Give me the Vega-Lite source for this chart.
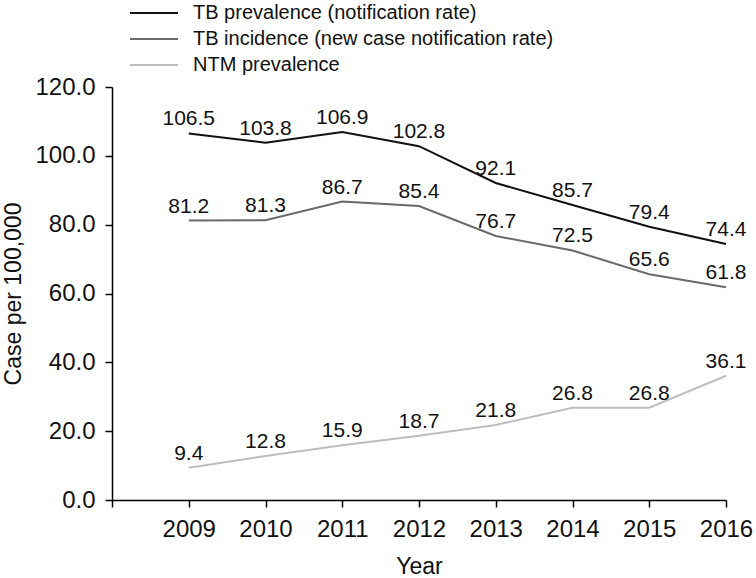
{
  "$schema": "https://vega.github.io/schema/vega-lite/v6.json",
  "width": 614,
  "height": 413,
  "autosize": {"type": "none"},
  "padding": {"left": 112, "top": 87, "right": 30, "bottom": 78},
  "background": "white",
  "config": {
    "view": {"stroke": null},
    "font": "Liberation Sans",
    "axis": {"grid": false, "domainColor": "#000", "tickColor": "#000", "domainWidth": 1.5, "tickWidth": 1.5, "tickSize": 7, "labelColor": "#111", "titleColor": "#111", "labelFont": "Liberation Sans", "titleFont": "Liberation Sans", "labelFontSize": 24, "titleFontSize": 23, "titleFontWeight": "normal", "labelOverlap": false, "labelFlush": false}
  },
  "data": {
    "values": [
      {"year": 2009, "series": "TB prevalence (notification rate)", "value": 106.5},
      {"year": 2010, "series": "TB prevalence (notification rate)", "value": 103.8},
      {"year": 2011, "series": "TB prevalence (notification rate)", "value": 106.9},
      {"year": 2012, "series": "TB prevalence (notification rate)", "value": 102.8},
      {"year": 2013, "series": "TB prevalence (notification rate)", "value": 92.1},
      {"year": 2014, "series": "TB prevalence (notification rate)", "value": 85.7},
      {"year": 2015, "series": "TB prevalence (notification rate)", "value": 79.4},
      {"year": 2016, "series": "TB prevalence (notification rate)", "value": 74.4},
      {"year": 2009, "series": "TB incidence (new case notification rate)", "value": 81.2},
      {"year": 2010, "series": "TB incidence (new case notification rate)", "value": 81.3},
      {"year": 2011, "series": "TB incidence (new case notification rate)", "value": 86.7},
      {"year": 2012, "series": "TB incidence (new case notification rate)", "value": 85.4},
      {"year": 2013, "series": "TB incidence (new case notification rate)", "value": 76.7},
      {"year": 2014, "series": "TB incidence (new case notification rate)", "value": 72.5},
      {"year": 2015, "series": "TB incidence (new case notification rate)", "value": 65.6},
      {"year": 2016, "series": "TB incidence (new case notification rate)", "value": 61.8},
      {"year": 2009, "series": "NTM prevalence", "value": 9.4},
      {"year": 2010, "series": "NTM prevalence", "value": 12.8},
      {"year": 2011, "series": "NTM prevalence", "value": 15.9},
      {"year": 2012, "series": "NTM prevalence", "value": 18.7},
      {"year": 2013, "series": "NTM prevalence", "value": 21.8},
      {"year": 2014, "series": "NTM prevalence", "value": 26.8},
      {"year": 2015, "series": "NTM prevalence", "value": 26.8},
      {"year": 2016, "series": "NTM prevalence", "value": 36.1}
    ]
  },
  "encoding": {
    "x": {
      "field": "year", "type": "quantitative",
      "scale": {"domain": [2008, 2016], "nice": false, "zero": false},
      "axis": {"title": "Year", "values": [2008, 2009, 2010, 2011, 2012, 2013, 2014, 2015, 2016], "format": "d", "labelExpr": "datum.value == 2008 ? '' : datum.label", "labelPadding": 10, "titlePadding": 14}
    },
    "y": {
      "field": "value", "type": "quantitative",
      "scale": {"domain": [0, 120], "nice": false},
      "axis": {"title": "Case per 100,000", "values": [0, 20, 40, 60, 80, 100, 120], "format": ".1f", "labelPadding": 10, "titlePadding": 9}
    }
  },
  "layer": [
    {
      "mark": {"type": "line", "strokeWidth": 2},
      "encoding": {
        "color": {
          "field": "series", "type": "nominal",
          "scale": {"domain": ["TB prevalence (notification rate)", "TB incidence (new case notification rate)", "NTM prevalence"], "range": ["#111111", "#6a6a6a", "#bdbdbd"]},
          "legend": {
            "title": null, "orient": "none", "legendX": 32, "legendY": -84,
            "symbolType": "M-4.8,0H4.8", "symbolSize": 100, "symbolStrokeWidth": 2,
            "labelOffset": 29, "labelFontSize": 20, "labelFont": "Liberation Sans", "labelColor": "#111",
            "rowPadding": 6, "labelLimit": 600
          }
        }
      }
    },
    {
      "mark": {"type": "text", "fontSize": 21, "font": "Liberation Sans", "baseline": "alphabetic", "dy": -8, "color": "#111"},
      "encoding": {
        "text": {"field": "value", "type": "quantitative", "format": ".1f"},
        "detail": {"field": "series"}
      }
    }
  ]
}
